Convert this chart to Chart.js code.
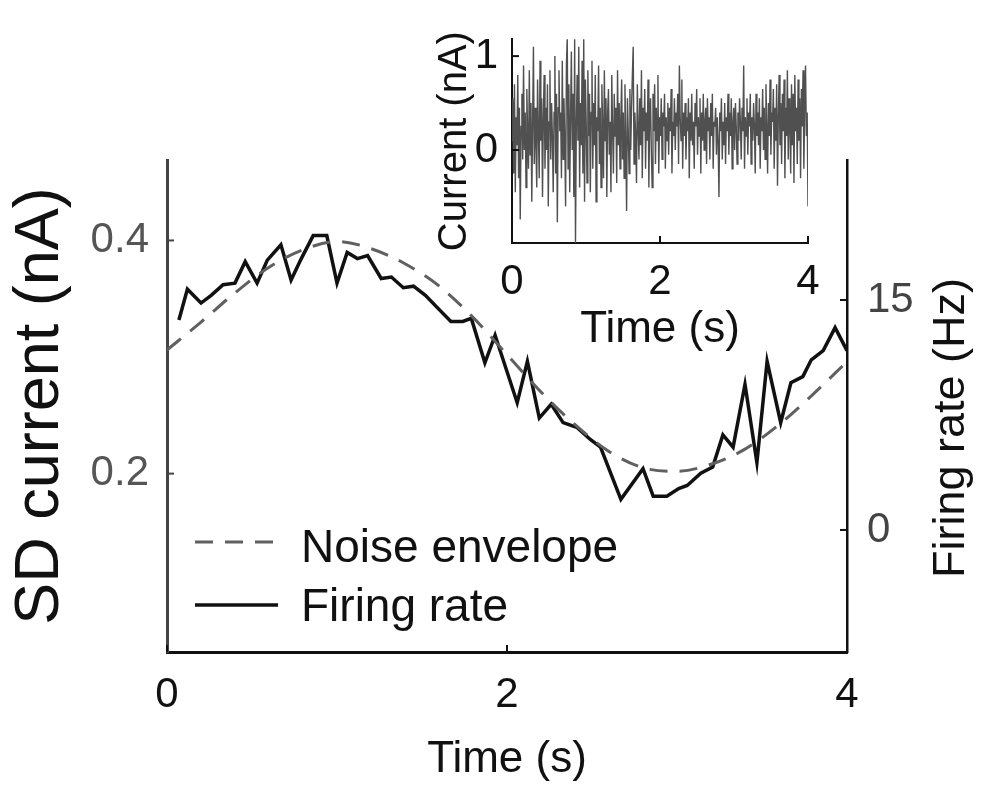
<!DOCTYPE html>
<html><head><meta charset="utf-8">
<script src="https://cdn.jsdelivr.net/npm/chart.js@4.4.1/dist/chart.umd.min.js"></script>
<style>
html,body{margin:0;padding:0;background:#fff;}
#wrap{position:relative;width:1000px;height:789px;background:#fff;}
canvas{position:absolute;left:0;top:0;}
</style></head><body>
<div id="wrap"><canvas id="main" width="1000" height="789"></canvas><canvas id="inset" width="1000" height="789"></canvas></div>
<script>
// ---- data ----
const rateTimes = [0.07,0.12,0.20,0.26,0.33,0.40,0.46,0.53,0.59,0.67,0.73,0.79,0.86,0.94,1.00,1.06,1.12,1.18,1.26,1.32,1.39,1.45,1.52,1.59,1.67,1.74,1.79,1.87,1.93,2.06,2.12,2.19,2.26,2.33,2.41,2.49,2.55,2.67,2.80,2.86,2.94,3.01,3.06,3.14,3.21,3.27,3.33,3.40,3.47,3.53,3.61,3.67,3.74,3.79,3.86,3.93,4.00];
const rateHz = [13.7,15.7,14.8,15.3,16.0,16.1,17.5,16.1,17.6,18.6,16.3,17.7,19.2,19.2,16.1,18.1,17.7,17.9,16.4,16.5,15.8,15.9,15.3,14.5,13.6,13.6,13.8,10.9,12.7,8.3,11.0,7.3,8.2,7.0,6.7,5.9,5.4,2.0,4.0,2.2,2.2,2.7,2.9,3.7,4.1,6.2,5.4,9.5,4.4,11.0,7.0,9.6,10.0,11.1,11.7,13.2,11.7];
const envTimes = [0,0.2,0.4,0.6,0.8,1.0,1.2,1.4,1.6,1.8,2.0,2.2,2.4,2.6,2.8,3.0,3.2,3.4,3.6,3.8,4.0];
const envSD = [0.306,0.330,0.355,0.377,0.392,0.399,0.393,0.380,0.361,0.334,0.302,0.270,0.242,0.219,0.205,0.202,0.208,0.221,0.242,0.268,0.296];
const currentTrace = [
0.10,0.55,-0.25,0.70,-0.45,0.35,0.05,0.80,-0.30,0.45,
-0.74,0.25,0.60,-0.10,0.90,0.00,0.40,-0.40,0.65,0.15,
-0.20,0.85,-0.05,0.50,-0.55,0.30,1.10,-0.15,0.45,0.05,
-0.40,0.75,0.20,-0.30,0.95,0.10,0.55,-0.50,0.35,0.80,
-0.20,0.45,0.00,0.70,-0.60,0.30,0.85,-0.10,0.50,0.15,
-0.45,0.40,1.00,-0.25,0.60,-0.77,0.45,0.85,0.20,0.40,
-0.30,0.95,-0.10,0.55,0.10,-0.60,0.90,1.20,-0.20,0.70,
-0.45,0.35,1.05,0.00,0.60,-0.50,1.20,-1.00,0.25,0.80,
0.10,1.10,-0.40,0.50,0.05,0.95,-0.25,1.20,-0.55,0.75,
0.30,-0.35,0.85,0.15,0.60,-0.45,0.40,0.95,-0.20,0.50,
0.05,0.80,-0.55,0.35,0.20,0.90,-0.15,0.45,-0.40,0.70,
0.25,-0.30,0.85,0.10,0.55,-0.50,0.40,0.65,-0.05,0.30,
-0.45,0.80,0.20,-0.25,0.60,0.15,0.45,-0.35,0.85,0.05,
0.50,-0.20,0.35,0.75,-0.10,0.40,-0.30,0.70,0.10,-0.65,
0.55,0.20,-0.25,0.65,0.00,0.45,0.80,1.10,-0.15,0.40,
0.15,-0.35,0.70,0.25,-0.10,0.55,0.05,0.85,-0.30,0.45,
0.20,0.65,-0.20,0.40,0.10,0.75,-0.40,0.35,0.55,0.00,
-0.40,0.60,0.20,0.70,-0.15,0.45,0.10,0.80,-0.25,0.35,
0.15,0.55,-0.10,0.40,0.25,0.60,-0.20,0.35,0.10,0.50,
-0.05,0.45,0.20,0.65,-0.25,0.30,0.15,0.55,0.00,0.40,
0.25,0.60,-0.15,0.90,0.35,0.10,0.75,-0.20,0.40,0.15,
0.50,-0.10,0.35,0.20,0.55,-0.30,0.40,0.10,0.60,0.05,
0.30,-0.20,0.50,0.25,0.65,-0.05,0.35,0.15,0.55,-0.25,
0.40,0.10,0.60,0.00,0.30,0.45,-0.15,0.55,0.20,0.35,
-0.10,0.50,0.15,0.60,-0.20,0.30,0.25,0.45,-0.05,0.35,
0.10,-0.50,0.40,0.20,0.55,-0.10,0.30,0.05,0.50,-0.15,
0.35,0.20,0.60,-0.05,0.40,0.15,0.55,-0.20,0.30,0.45,
0.00,0.50,0.25,-0.15,0.40,0.10,0.55,0.30,-0.10,0.45,
0.20,0.90,-0.20,0.35,0.15,0.55,-0.05,0.40,0.25,0.60,
-0.15,0.35,0.10,0.50,0.25,-0.25,0.60,0.15,0.40,0.05,
0.55,-0.20,0.35,0.20,0.65,0.00,0.45,-0.10,0.70,0.25,
-0.25,0.50,0.15,0.75,-0.05,0.40,0.30,0.65,-0.20,0.45,
0.10,0.70,-0.38,0.35,0.80,0.05,0.50,-0.15,0.60,0.20,
0.75,-0.30,0.45,0.15,0.85,-0.10,0.55,0.25,-0.25,0.70,
0.05,0.60,-0.35,0.80,0.20,0.45,-0.15,0.75,0.10,0.55,
-0.30,0.65,0.25,0.85,-0.20,0.50,0.90,0.15,0.40,-0.60];
const traceDuration = 4; // seconds
const xTickValues = [0, 2, 4];
const leftTickValues = [0.2, 0.4];
const rightTickValues = [0, 15];
const insetYTickValues = [0, 1];
const legendLabels = ['Noise envelope', 'Firing rate'];

// ---- rendering ----
const FONT = "'Liberation Sans', Arial, Helvetica, sans-serif";
Chart.defaults.font.family = FONT;
Chart.defaults.color = '#111';

const inwardTicks = {
  id: 'inwardTicks',
  afterDraw(chart) {
    const ctx = chart.ctx;
    ctx.save();
    ctx.lineWidth = 2;
    Object.values(chart.scales).forEach(s => {
      ctx.strokeStyle = s.options.border.color;
      s.ticks.forEach(t => {
        const p = s.getPixelForValue(t.value);
        ctx.beginPath();
        if (s.isHorizontal()) { ctx.moveTo(p, s.top); ctx.lineTo(p, s.top - 7); }
        else if (s.position === 'left') { ctx.moveTo(s.right, p); ctx.lineTo(s.right + 7, p); }
        else { ctx.moveTo(s.left, p); ctx.lineTo(s.left - 7, p); }
        ctx.stroke();
      });
    });
    ctx.restore();
  }
};

const mainExtras = {
  id: 'mainExtras',
  afterDraw(chart) {
    const ctx = chart.ctx;
    ctx.save();
    // right axis title
    ctx.translate(952, 428);
    ctx.rotate(-Math.PI / 2);
    ctx.font = '45px ' + FONT;
    ctx.fillStyle = '#111';
    ctx.textAlign = 'center';
    ctx.textBaseline = 'middle';
    ctx.fillText('Firing rate (Hz)', 0, 0);
    ctx.restore();
    // legend
    const rows = [542, 605];
    const baselines = [562, 621];
    chart.data.datasets.forEach((ds, i) => {
      ctx.save();
      ctx.strokeStyle = ds.borderColor;
      ctx.lineWidth = ds.borderWidth;
      ctx.setLineDash(ds.borderDash || []);
      ctx.beginPath();
      ctx.moveTo(195, rows[i]);
      ctx.lineTo(278, rows[i]);
      ctx.stroke();
      ctx.setLineDash([]);
      ctx.font = '46px ' + FONT;
      ctx.fillStyle = '#111';
      ctx.textAlign = 'left';
      ctx.textBaseline = 'alphabetic';
      ctx.fillText(ds.label, 301, baselines[i]);
      ctx.restore();
    });
  }
};

new Chart(document.getElementById('main'), {
  type: 'line',
  data: {
    datasets: [
      {
        label: legendLabels[0],
        data: envTimes.map((t, i) => ({x: t, y: envSD[i]})),
        yAxisID: 'yL',
        borderColor: '#606060',
        borderWidth: 3,
        borderDash: [18, 12],
        pointRadius: 0,
        cubicInterpolationMode: 'monotone',
        fill: false
      },
      {
        label: legendLabels[1],
        data: rateTimes.map((t, i) => ({x: t, y: rateHz[i]})),
        yAxisID: 'yR',
        borderColor: '#111',
        borderWidth: 3.5,
        pointRadius: 0,
        tension: 0,
        fill: false
      }
    ]
  },
  options: {
    responsive: false,
    animation: false,
    devicePixelRatio: 1,
    layout: {padding: {top: 160, left: 0, right: 0, bottom: 0}},
    plugins: {legend: {display: false}, tooltip: {enabled: false}},
    scales: {
      x: {
        type: 'linear', position: 'bottom', min: 0, max: 4,
        afterBuildTicks: s => { s.ticks = xTickValues.map(v => ({value: v})); },
        afterFit: s => { s.height = 137; },
        grid: {display: false, drawTicks: false},
        border: {display: true, color: '#111', width: 3},
        ticks: {font: {size: 42}, color: '#111', padding: 18, maxRotation: 0, callback: v => String(v)},
        title: {display: true, text: 'Time (s)', font: {size: 44}, color: '#111', padding: {top: 0, bottom: 3}}
      },
      yL: {
        type: 'linear', position: 'left', min: 0.047, max: 0.469,
        afterBuildTicks: s => { s.ticks = leftTickValues.map(v => ({value: v})); },
        afterFit: s => { s.width = 167; },
        grid: {display: false, drawTicks: false},
        border: {display: true, color: '#444', width: 3},
        ticks: {font: {size: 42}, color: '#555', padding: 18, callback: v => v.toFixed(1)},
        title: {display: true, text: 'SD current (nA)', font: {size: 63}, color: '#111', padding: {top: 3, bottom: 0}}
      },
      yR: {
        type: 'linear', position: 'right', min: -7.96, max: 24.13,
        afterBuildTicks: s => { s.ticks = rightTickValues.map(v => ({value: v})); },
        afterFit: s => { s.width = 153; },
        grid: {display: false, drawTicks: false},
        border: {display: true, color: '#111', width: 2.5},
        ticks: {font: {size: 42}, color: '#444', padding: 20, callback: v => String(v)}
      }
    }
  },
  plugins: [inwardTicks, mainExtras]
});

const dt = traceDuration / (currentTrace.length - 1);
new Chart(document.getElementById('inset'), {
  type: 'line',
  data: {
    datasets: [{
      label: 'Current',
      data: currentTrace.map((v, i) => ({x: i * dt, y: v})),
      borderColor: '#505050',
      borderWidth: 1.4,
      pointRadius: 0,
      tension: 0,
      fill: false
    }]
  },
  options: {
    responsive: false,
    animation: false,
    devicePixelRatio: 1,
    layout: {padding: {top: 33, left: 420, right: 192, bottom: 429}},
    plugins: {legend: {display: false}, tooltip: {enabled: false}},
    scales: {
      x: {
        type: 'linear', position: 'bottom', min: 0, max: 4,
        afterBuildTicks: s => { s.ticks = xTickValues.map(v => ({value: v})); },
        afterFit: s => { s.height = 117; },
        grid: {display: false, drawTicks: false},
        border: {display: true, color: '#111', width: 2},
        ticks: {font: {size: 42}, color: '#111', padding: 14, maxRotation: 0, callback: v => String(v)},
        title: {display: true, text: 'Time (s)', font: {size: 44}, color: '#111', padding: {top: 0, bottom: 4}}
      },
      y: {
        type: 'linear', position: 'left', min: -0.99, max: 1.18,
        afterBuildTicks: s => { s.ticks = insetYTickValues.map(v => ({value: v})); },
        afterFit: s => { s.width = 92; },
        grid: {display: false, drawTicks: false},
        border: {display: true, color: '#111', width: 2},
        ticks: {font: {size: 42}, color: '#111', padding: 14, callback: v => String(v)},
        title: {display: true, text: 'Current (nA)', font: {size: 40}, color: '#111', padding: {top: 11, bottom: 0}}
      }
    }
  },
  plugins: [inwardTicks]
});
</script>
</body></html>
